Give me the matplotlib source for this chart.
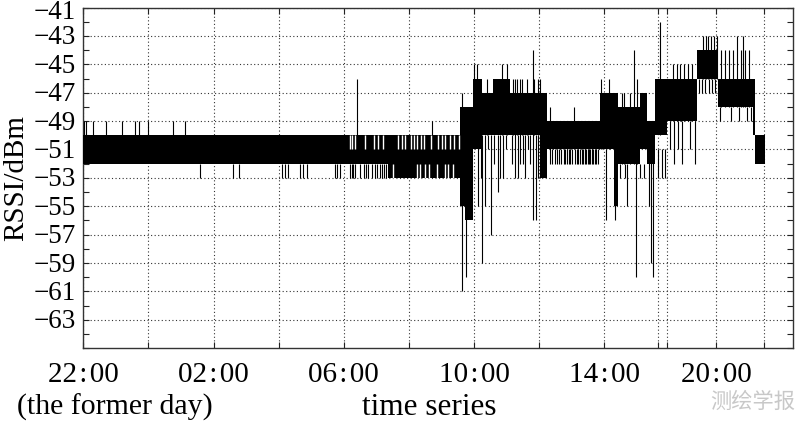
import numpy as np
import matplotlib
matplotlib.use("Agg")
import matplotlib.pyplot as plt
from matplotlib.ticker import MultipleLocator
from matplotlib.transforms import blended_transform_factory, ScaledTranslation

plt.rcParams['font.family'] = ['Liberation Serif', 'DejaVu Serif']

# Solid band of the RSSI trace: segment edges (index axis, hours after 22:00)
band_edges = [0.00, 9.36, 11.56, 11.72, 11.96, 12.24, 12.58, 13.10, 14.02,
              14.23, 15.86, 16.30, 16.42, 17.09, 17.30, 17.55, 17.91, 18.83,
              19.48, 20.55, 20.61, 20.92]
band_lo = [-52, -53, -55, -56, -51, -50, -50, -50, -53, -51, -51, -55, -52,
           -51, -52, -50, -49, -46, -48, -50, -52]
band_hi = [-50, -50, -48, -48, -46, -47, -46, -47, -47, -49, -47, -47, -48,
           -47, -49, -46, -46, -44, -46, -46, -50]

# Single samples sticking out of the band: position, low end, high end
spike_x = [0.03, 0.09, 0.31, 0.71, 1.20, 1.60, 1.72, 1.99, 2.76, 3.13,
           3.59, 4.60, 4.79, 6.10, 6.20, 6.29, 6.66, 6.75, 6.87, 7.73, 7.79, 7.88,
           8.19, 8.25, 8.28, 8.35, 8.40, 8.50, 8.62, 8.68, 8.74, 8.85, 8.96, 9.03,
           9.11, 9.17, 9.23, 9.30,
           10.71,
           11.63, 11.75, 11.99, 12.09, 12.12, 12.21, 12.24, 12.33, 12.39, 12.42,
           12.52, 12.61, 12.73, 12.79, 12.85, 12.88, 12.98, 13.01, 13.16, 13.20,
           13.25, 13.30, 13.34, 13.40, 13.48, 13.50, 13.56, 13.62, 13.65, 13.71,
           13.80, 13.85, 13.90, 13.95, 13.96, 14.02,
           14.32, 14.40, 14.48, 14.53, 14.60, 14.68, 14.75, 14.80, 14.85, 14.90,
           14.94, 15.00, 15.06, 15.09, 15.15, 15.20, 15.25, 15.30, 15.34, 15.40,
           15.44, 15.48, 15.52, 15.57, 15.61, 15.66, 15.70, 15.74, 15.80,
           15.89, 16.04, 16.13, 16.32, 16.47, 16.53, 16.60, 16.63, 16.69, 16.78,
           16.90, 16.96, 17.00, 17.09, 17.21, 17.36, 17.42, 17.48,
           17.64, 17.70, 17.76, 17.85, 18.01, 18.10, 18.13, 18.22, 18.25, 18.31,
           18.37, 18.44, 18.56, 18.62, 18.68, 18.77,
           18.90, 18.99, 19.02, 19.08, 19.11, 19.17, 19.20, 19.26, 19.29, 19.36,
           19.39, 19.45,
           19.54, 19.57, 19.69, 19.82, 19.88, 19.94, 20.06, 20.12, 20.18, 20.25,
           20.31, 20.37, 20.43, 20.49]
spike_lo = [-50, -50, -50, -50, -50, -50, -50, -50, -50, -50,
            -53, -53, -53, -53, -53, -53, -53, -53, -53, -53, -53, -53,
            -53, -53, -53, -53, -50, -53, -53, -53, -53, -53, -53, -53,
            -53, -53, -53, -53,
            -50,
            -61, -60, -50, -50, -55, -53, -59, -55, -50, -51,
            -57, -52, -54, -53, -50, -53, -51, -50, -52, -50,
            -53, -50, -53, -52, -50, -52, -53, -50, -51, -52,
            -56, -50, -56, -50, -53, -53,
            -52, -52, -52, -52, -52, -52, -52, -52, -52, -52,
            -52, -52, -49, -52, -52, -52, -52, -52, -52, -52,
            -52, -52, -52, -52, -52, -52, -52, -52, -52,
            -51, -56, -51, -56, -53, -52, -52, -53, -55, -52,
            -52, -60, -52, -53, -53, -55, -59, -60,
            -53, -50, -53, -53, -51, -49, -52, -49, -51, -49,
            -52, -49, -49, -51, -49, -52,
            -47, -47, -46, -47, -46, -46, -47, -46, -47, -46,
            -47, -46,
            -49, -48, -48, -48, -49, -48, -48, -49, -48, -48,
            -48, -49, -48, -49]
spike_hi = [-49, -49, -49, -49, -49, -49, -49, -49, -49, -49,
            -52, -52, -52, -52, -52, -52, -52, -52, -52, -52, -52, -52,
            -52, -52, -52, -52, -46, -52, -52, -52, -52, -52, -52, -52,
            -52, -52, -52, -52,
            -49,
            -47, -48, -45, -45, -50, -50, -50, -50, -46, -50,
            -50, -50, -50, -50, -45, -50, -50, -45, -50, -46,
            -46, -46, -50, -46, -46, -50, -50, -46, -50, -50,
            -44, -46, -50, -46, -50, -46,
            -48, -51, -51, -51, -51, -51, -51, -51, -51, -51,
            -51, -51, -48, -51, -51, -51, -51, -51, -51, -51,
            -51, -51, -51, -51, -51, -51, -51, -51, -51,
            -46, -51, -46, -51, -52, -47, -47, -52, -52, -47,
            -44, -51, -46, -52, -52, -51, -51, -51,
            -51, -42, -51, -51, -49, -45, -49, -45, -49, -45,
            -49, -45, -45, -49, -45, -49,
            -46, -46, -43, -46, -43, -43, -46, -43, -46, -43,
            -46, -43,
            -48, -44, -44, -44, -48, -44, -43, -48, -44, -43,
            -44, -48, -44, -48]

# Places inside the band where no sample was plotted (white notches)
gap_x = [8.19, 8.25, 8.34, 8.65, 8.93, 9.05, 9.20, 9.66, 9.79, 9.88,
         10.06, 10.15, 10.25, 10.37, 10.46, 10.67, 10.89, 11.01, 11.10, 11.26,
         11.38, 11.53,
         9.51, 10.25, 10.34, 10.49, 10.61, 10.86, 11.10, 11.20, 11.35]
gap_lo = [-51] * 22 + [-53] * 9
gap_hi = [-50] * 22 + [-52] * 9

# Axis ticks (index axis is compressed after 14:00)
xtick_pos = [0, 2, 4, 6, 8, 10, 12, 14, 16, 17.64, 17.91, 19.42, 20.89]
xlabel_pos = [0, 4, 8, 12, 16, 19.42]
xlabel_text = ['22\u200a:\u200a00', '02\u200a:\u200a00', '06\u200a:\u200a00',
               '10\u200a:\u200a00', '14\u200a:\u200a00', '20\u200a:\u200a00']
ytick_major = list(range(-41, -64, -2))

fig = plt.figure(figsize=(8, 4.23), dpi=100)
ax = fig.add_axes([0.104, 0.177, 0.887, 0.805])

ax.stairs(band_hi, band_edges, baseline=band_lo, fill=True,
          color='black', linewidth=0, zorder=3)
ax.vlines(gap_x, gap_lo, gap_hi, color='white', linewidth=1.0, zorder=3.5)
ax.vlines(spike_x, spike_lo, spike_hi, color='black', linewidth=0.8, zorder=4)

ax.set_xlim(0, 21.78)
ax.set_ylim(-65, -41)

# x labels drawn by hand (only some ticks are labelled)
ax.set_xticks(xtick_pos)
ax.set_xticklabels([''] * len(xtick_pos))
trans = blended_transform_factory(ax.transData, ax.transAxes)
for xp, txt in zip(xlabel_pos, xlabel_text):
    ax.text(xp, -0.1, txt, ha='center', va='baseline', fontsize=21,
            transform=trans)

# y labels: slightly below their gridlines, top one pushed down to fit
ax.set_yticks(ytick_major)
ax.set_yticklabels([''] * len(ytick_major))
ytrans = blended_transform_factory(ax.transAxes, ax.transData)
for v in ytick_major:
    shift = 5 if v == -41 else 2
    off = ScaledTranslation(-5 / 72, -shift / 72 * 0.72, fig.dpi_scale_trans)
    ax.text(0, v, f'\u2212{abs(v)}', ha='right', va='center', fontsize=19.5,
            transform=ytrans + off)
ax.yaxis.set_minor_locator(MultipleLocator(1))

ax.tick_params(axis='both', which='both', direction='in', top=True, right=True,
               length=4, width=0.8, color='#222222')
ax.grid(True, which='major', color='#333333', linestyle=(0, (1, 2.2)), linewidth=0.8)
for sp in ax.spines.values():
    sp.set_color('#333333')
    sp.set_linewidth(1.0)

ax.set_ylabel('RSSI/dBm', fontsize=21)
ax.yaxis.set_label_coords(-0.076, 0.5)

fig.text(0.143, 0.02, '(the former day)', ha='center', va='baseline', fontsize=21.5)
fig.text(0.536, 0.02, 'time series', ha='center', va='baseline', fontsize=22.5)
fig.text(0.941, 0.05, '测绘学报', ha='center', va='center', fontsize=15.3,
         color='#c8c8c8', family='Noto Sans CJK SC')

fig.savefig('out.png', dpi=100)
